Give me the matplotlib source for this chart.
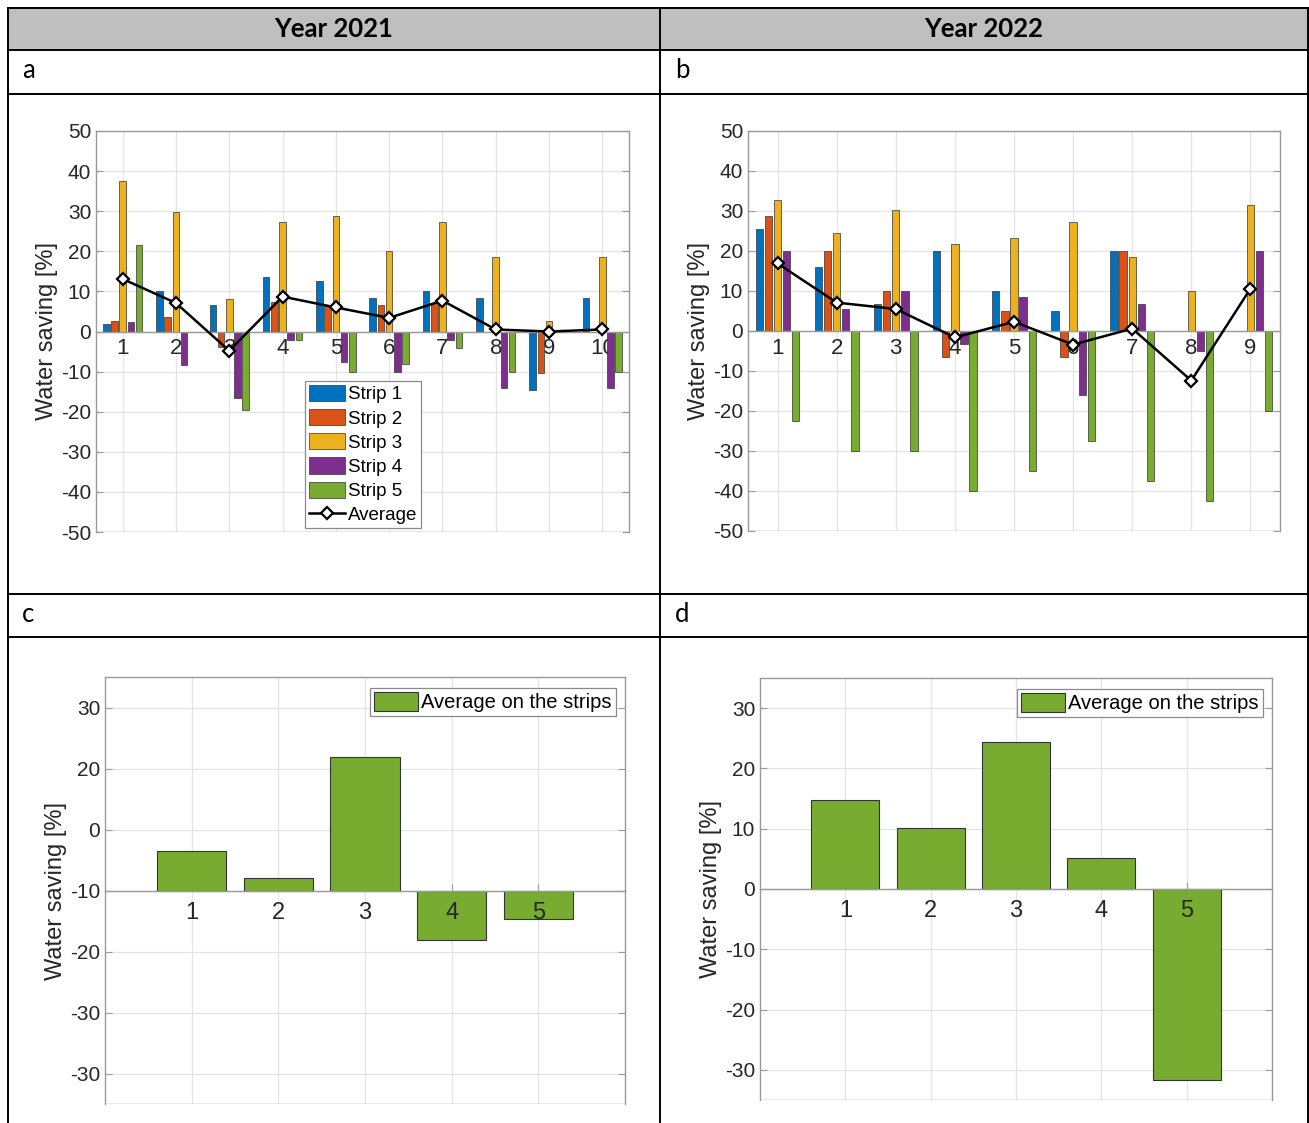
import numpy as np
import matplotlib
matplotlib.use("Agg")
from matplotlib import pyplot as plt
from matplotlib.lines import Line2D
from matplotlib.patches import Rectangle

W, H = 1309, 1123

# ---- data ----
strip_names = ['Strip 1', 'Strip 2', 'Strip 3', 'Strip 4', 'Strip 5']
colors = ['#0072BD', '#D95319', '#EDB120', '#7E2F8E', '#77AC30']

fields_2021 = np.arange(1, 11)
s1_2021 = [1.8, 10, 6.7, 13.5, 12.5, 8.4, 10, 8.4, -14.6, 8.4]
s2_2021 = [2.7, 3.7, -3.8, 7.3, 6.3, 6.7, 7.2, 0, -10.4, 0]
s3_2021 = [37.5, 29.9, 8.2, 27.3, 28.8, 20, 27.3, 18.7, 2.7, 18.7]
s4_2021 = [2.3, -8.4, -16.6, -2, -7.7, -10, -2, -14, 0, -14]
s5_2021 = [21.5, 0, -19.6, -2, -10, -8.1, -4, -10, 0, -10]
avg_2021 = [13.1, 7.1, -4.8, 8.7, 6.0, 3.4, 7.7, 0.5, 0, 0.5]

fields_2022 = np.arange(1, 10)
s1_2022 = [25.5, 16, 6.7, 20, 10, 5.1, 20, 0, 0]
s2_2022 = [28.8, 20, 10, -6.5, 5.1, -6.5, 20, 0, 0]
s3_2022 = [32.7, 24.5, 30.2, 21.7, 23.2, 27.2, 18.6, 10, 31.5]
s4_2022 = [20, 5.4, 10, -3.3, 8.4, -16, 6.7, -4.9, 20]
s5_2022 = [-22.4, -30, -30, -40, -34.9, -27.4, -37.5, -42.4, -19.9]
avg_2022 = [16.9, 7.1, 5.5, -1.6, 2.3, -3.4, 0.6, -12.4, 10.6]

strips = np.arange(1, 6)
strip_avg_2021 = [6.4, 2.0, 21.9, -8.1, -4.6]
strip_avg_2022 = [14.8, 10.1, 24.4, 5.2, -31.6]

# tick labels of panel c as printed in the source
c_ticks = [-30, -20, -10, 0, 10, 20, 30]
c_ticklabels = ['-30', '-30', '-20', '-10', '0', '20', '30']

plt.rcParams['font.family'] = ['Liberation Sans', 'DejaVu Sans']
plt.rcParams['axes.unicode_minus'] = False
txt_col = '#262626'
spine_col = '#9a9a9a'
grid_col = '#e4e4e4'

fig = plt.figure(figsize=(W / 100, H / 100), dpi=100)

def box(l, t, r, b):
    return [l / W, 1 - b / H, (r - l) / W, (b - t) / H]

# table background
bg = fig.add_axes([0, 0, 1, 1], zorder=-5)
bg.set_xlim(0, W)
bg.set_ylim(H, 0)
bg.axis('off')
bg.add_patch(Rectangle((8, 8), 1300, 42, facecolor='#bfbfbf', edgecolor='none'))
for y in [8, 50, 94, 594, 637]:
    bg.plot([8, 1308], [y, y], color='black', lw=1.4)
for x in [8, 660, 1308]:
    bg.plot([x, x], [8, H], color='black', lw=1.4)
head_font = ['Lato', 'DejaVu Sans']
bg.text(334, 29, 'Year 2021', ha='center', va='center', fontsize=18.5,
        fontweight='bold', family=head_font)
bg.text(984, 29, 'Year 2022', ha='center', va='center', fontsize=18.5,
        fontweight='bold', family=head_font)
for lab, x, y in [('a', 22, 71), ('b', 675, 71), ('c', 22, 615), ('d', 675, 615)]:
    bg.text(x, y, lab, ha='left', va='center', fontsize=18.5, family=head_font)


def style(ax):
    for s in ax.spines.values():
        s.set_color(spine_col)
        s.set_linewidth(1.0)
    ax.grid(True, color=grid_col, lw=0.9)
    ax.set_axisbelow(True)
    ax.tick_params(direction='in', length=5, colors=spine_col, labelcolor=txt_col,
                   labelsize=15, right=True, width=0.8)
    ax.set_ylabel('Water saving [%]', fontsize=17, color=txt_col, labelpad=2)


def origin_axis(ax):
    # x axis drawn through y = 0, box kept
    ax.spines['bottom'].set_position(('data', 0))
    ax.add_line(Line2D([0, 1], [0, 0], transform=ax.transAxes, color=spine_col, lw=1.0))
    ax.tick_params(axis='x', pad=5, direction='in', labelsize=16)


def grouped(ax, x, series, avg):
    slot = 0.154
    bw = 0.123
    handles = []
    for i, vals in enumerate(series):
        h = ax.bar(x + (i - 2) * slot, vals, width=bw, color=colors[i],
                   edgecolor='#333333', linewidth=0.5, label=strip_names[i], zorder=2)
        handles.append(h)
    ln, = ax.plot(x, avg, color='black', lw=1.8, marker='D', markersize=6.5,
                  markerfacecolor='white', markeredgecolor='black', markeredgewidth=1.6,
                  label='Average', zorder=3)
    handles.append(ln)
    ax.set_ylim(-50, 50)
    ax.set_yticks(np.arange(-50, 51, 10))
    ax.set_xticks(x)
    ax.set_xlim(x[0] - 0.5, x[-1] + 0.5)
    return handles


# panel a
ax_a = fig.add_axes(box(96, 131, 629, 532))
hs = grouped(ax_a, fields_2021, [s1_2021, s2_2021, s3_2021, s4_2021, s5_2021], avg_2021)
style(ax_a)
origin_axis(ax_a)
leg = ax_a.legend(handles=hs, loc='lower left', bbox_to_anchor=(0.393, 0.01), fontsize=13.5,
                  frameon=True, fancybox=False, edgecolor='#8a8a8a', framealpha=1,
                  handlelength=1.9, handleheight=0.95, handletextpad=0.15,
                  labelspacing=0.3, borderpad=0.2, borderaxespad=0)
leg.get_frame().set_linewidth(0.9)

# panel b
ax_b = fig.add_axes(box(748, 131, 1280, 531))
grouped(ax_b, fields_2022, [s1_2022, s2_2022, s3_2022, s4_2022, s5_2022], avg_2022)
style(ax_b)
origin_axis(ax_b)


def single(ax, vals):
    ax.bar(strips, vals, width=0.8, color='#77AC30', edgecolor='#333333',
           linewidth=0.8, label='Average on the strips', zorder=2)
    ax.set_xlim(0, 6)
    ax.set_ylim(-35, 35)
    ax.set_xticks(strips)
    style(ax)
    origin_axis(ax)
    # x labels sit on top of the bars here
    ax.set_xticklabels([])
    for s in strips:
        ax.annotate(str(s), xy=(s, 0), xytext=(0, -16), textcoords='offset points',
                    ha='center', va='center', fontsize=17, color=txt_col, zorder=5)
    l = ax.legend(loc='upper right', bbox_to_anchor=(0.982, 0.975), fontsize=14.5,
                  frameon=True, fancybox=False, edgecolor='#8a8a8a', framealpha=1,
                  handlelength=2.2, handleheight=1.1, handletextpad=0.15,
                  borderpad=0.2, borderaxespad=0)
    l.get_frame().set_linewidth(0.9)


# panel c
ax_c = fig.add_axes(box(105, 677, 625, 1104))
single(ax_c, strip_avg_2021)
ax_c.set_yticks(c_ticks)
ax_c.set_yticklabels(c_ticklabels)

# panel d
ax_d = fig.add_axes(box(760, 678, 1272, 1100))
single(ax_d, strip_avg_2022)
ax_d.set_yticks(np.arange(-30, 31, 10))

fig.savefig('out.png', dpi=100)
